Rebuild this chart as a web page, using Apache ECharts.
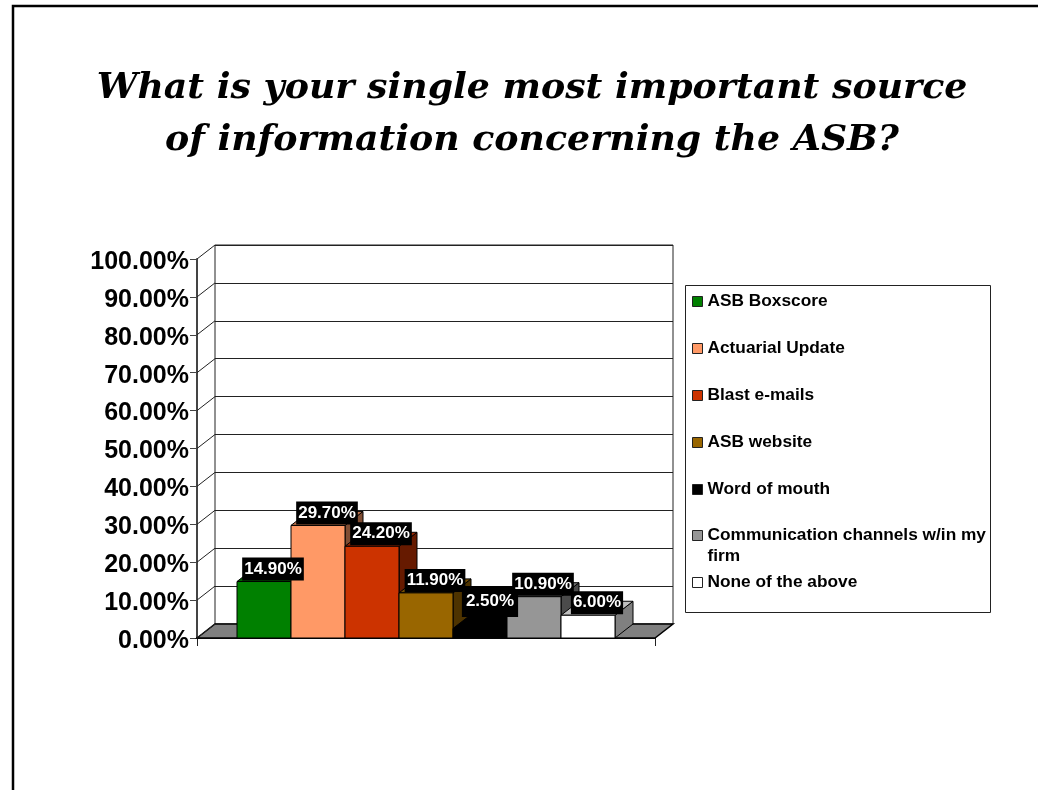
<!DOCTYPE html>
<html><head><meta charset="utf-8">
<style>html,body{margin:0;padding:0;background:#fff}#c{width:1038px;height:790px}</style>
<script src="https://cdn.jsdelivr.net/npm/echarts@6/dist/echarts.min.js"></script>
</head><body><div id="c"></div>
<script>
const titleLines = ['What is your single most important source','of information concerning the ASB?'];
const categories = ['Source'];
const names = ['ASB Boxscore','Actuarial Update','Blast e-mails','ASB website','Word of mouth','Communication channels w/in my firm','None of the above'];
const values = [14.9,29.7,24.2,11.9,2.5,10.9,6.0];
const colors = ['#008000','#FF9966','#CC3300','#996600','#000000','#969696','#FFFFFF'];
const tickValues = [0,10,20,30,40,50,60,70,80,90,100];

const DX = 18, DY = 14, F = 'Liberation Sans';
function shade(hex,k){
  const n=parseInt(hex.slice(1),16);
  return 'rgb('+[(n>>16)&255,(n>>8)&255,n&255].map(v=>Math.round(v*k)).join(',')+')';
}
const poly=(pts,fill,lw)=>({type:'polygon',shape:{points:pts},style:{fill:fill,stroke:'#000',lineWidth:lw||1}});

function renderBar(i){
  return function(params,api){
    const n=names.length;
    const layout=api.barLayout({count:n,barGap:'0%',barCategoryGap:'17.6%'})[i];
    const c0=api.coord([api.value(0),0]), c1=api.coord([api.value(0),api.value(1)]);
    const x0=Math.round(c0[0]+layout.offset), x1=Math.round(c0[0]+layout.offset+layout.width);
    const y0=c0[1], y1=c1[1];
    const col=colors[i];
    const low = y1>620;
    const pad = low ? [7,4,7,4] : [3,2,3,2];
    const bottom = low ? 617 : Math.min(y1-1,614.5);
    return {type:'group',children:[
      poly([[x1,y0],[x1+DX,y0-DY],[x1+DX,y1-DY],[x1,y1]],shade(col,0.5)),
      poly([[x0,y1],[x1,y1],[x1+DX,y1-DY],[x0+DX,y1-DY]],shade(col,0.75)),
      poly([[x0,y0],[x1,y0],[x1,y1],[x0,y1]],col),
      {type:'text',z2:100,x:(x0+x1)/2+(low?10:9),y:bottom,
       style:{text:values[i].toFixed(2)+'%',fill:'#fff',font:'bold 17px "'+F+'"',align:'center',verticalAlign:'bottom',
              backgroundColor:'#000',padding:pad,lineHeight:17}}
    ]};
  };
}
function renderWalls(params,api){
  const c=api.coord([0,api.value(0)]);
  const band=api.size([1,0])[0];
  const x=c[0]-band/2, y=c[1];
  const ch=[{type:'line',shape:{x1:x,y1:y,x2:x+DX,y2:y-DY},style:{stroke:'#222',lineWidth:1}}];
  if(params.dataIndex===0){
    ch.unshift(poly([[x,y],[x+DX,y-DY],[x+DX+band,y-DY],[x+band,y]],'#808080',1.5));
  }
  return {type:'group',children:ch};
}

const barSeries=names.map((nm,i)=>({
  name:nm,type:'custom',xAxisIndex:0,yAxisIndex:0,z:3,clip:false,
  itemStyle:{color:colors[i]},
  encode:{x:0,y:1},
  data:[[0,values[i]]],
  renderItem:renderBar(i),silent:true
}));
const wallSeries={name:'walls',type:'custom',xAxisIndex:0,yAxisIndex:0,z:1,clip:false,silent:true,
  encode:{y:0},data:tickValues.map(v=>[v]),renderItem:renderWalls};

const legendBase={orient:'vertical',left:692,selectedMode:false,icon:'rect',itemWidth:10,itemHeight:10,
  itemStyle:{borderColor:'#222',borderWidth:1},
  textStyle:{fontFamily:F,fontWeight:'bold',fontSize:17.3,lineHeight:21,color:'#000'},
  padding:0,itemGap:26};

const option={
  animation:false,backgroundColor:'#fff',
  title:{text:titleLines.join('\n'),left:527,top:58,textAlign:'center',
    textStyle:{fontFamily:'DejaVu Serif',fontStyle:'italic',fontWeight:'bold',fontSize:36.3,lineHeight:52,color:'#000'}},
  grid:[
    {left:197,top:259,width:458,height:379,show:false},
    {left:215,top:245,width:458,height:379,show:true,borderColor:'#222',borderWidth:1,backgroundColor:'#fff'}
  ],
  xAxis:[
    {type:'category',gridIndex:0,data:categories,boundaryGap:true,
     axisLine:{lineStyle:{color:'#111',width:2}},axisTick:{show:true,length:8,lineStyle:{color:'#222'}},axisLabel:{show:false}},
    {type:'category',gridIndex:1,data:categories,axisLine:{show:false},axisTick:{show:false},axisLabel:{show:false}}
  ],
  yAxis:[
    {type:'value',gridIndex:0,min:0,max:100,interval:10,
     axisLine:{show:true,lineStyle:{color:'#444',width:2}},axisTick:{show:true,length:7,lineStyle:{color:'#444'}},
     splitLine:{show:false},
     axisLabel:{margin:8,formatter:v=>'{a|'+v.toFixed(2)+'%}',
       rich:{a:{padding:[6,0,0,0],fontFamily:F,fontWeight:'bold',fontSize:25,color:'#000'}}}},
    {type:'value',gridIndex:1,min:0,max:100,interval:10,
     axisLine:{show:false},axisTick:{show:false},axisLabel:{show:false},
     splitLine:{show:true,lineStyle:{color:'#222',width:1}}}
  ],
  legend:[
    Object.assign({},legendBase,{top:291,data:names.slice(0,5)}),
    Object.assign({},legendBase,{top:504,data:[names[5]],formatter:s=>'\nCommunication channels w/in my\nfirm'}),
    Object.assign({},legendBase,{top:572,data:[names[6]]})
  ],
  graphic:[
    {type:'polyline',silent:true,shape:{points:[[13,790],[13,6],[1038,6]]},style:{fill:null,stroke:'#000',lineWidth:2.5}},
    {type:'rect',silent:true,z:-1,shape:{x:685.5,y:285.5,width:305,height:327},style:{fill:'#fff',stroke:'#222',lineWidth:1}}
  ],
  series:[wallSeries].concat(barSeries)
};
echarts.init(document.getElementById('c'),null,{renderer:'canvas'}).setOption(option);
</script></body></html>
